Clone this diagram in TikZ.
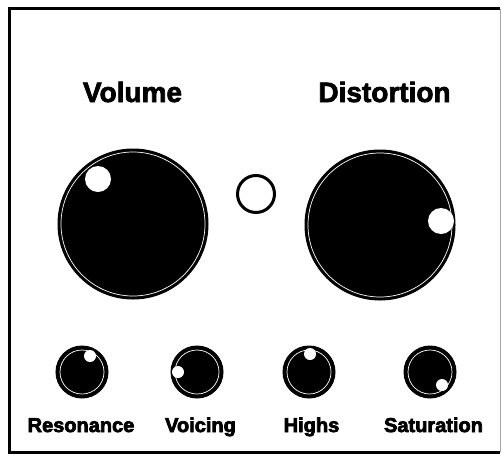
\documentclass[tikz,border=0pt]{standalone}
\usepackage{fontspec}
\setmainfont{Liberation Sans}
\newcommand{\heavytext}[1]{\special{pdf:literal direct 2 Tr 0.7 w}#1\special{pdf:literal direct 0 Tr}}
\begin{document}
\begin{tikzpicture}[x=1pt,y=-1pt,
  bigknob/.style={circle,fill=black,draw=black,line width=1pt,minimum size=150pt,inner sep=0pt},
  smallknob/.style={circle,fill=black,draw=black,line width=1pt,minimum size=52pt,inner sep=0pt},
  bigdot/.style={circle,fill=white,minimum size=26pt,inner sep=0pt},
  smalldot/.style={circle,fill=white,minimum size=12pt,inner sep=0pt},
  led/.style={circle,draw=black,line width=3pt,fill=white,minimum size=37pt,inner sep=0pt},
  ring/.style={draw=white,line width=0.7pt},
  biglabel/.style={font=\bfseries\fontsize{28}{28}\selectfont,anchor=base,inner sep=0pt},
  smalllabel/.style={font=\bfseries\fontsize{20}{20}\selectfont,anchor=base,inner sep=0pt}
]
\useasboundingbox (0,0) rectangle (502,458);
\fill[white] (0,0) rectangle (502,458);
% panel frame
\draw[black,line width=3pt] (500,8.5) -- (9,8.5) -- (9,452) -- (500,452);
\draw[gray!70,line width=1pt] (500,8.5) -- (500,452);

% big labels
\node[biglabel] (lvol) at (132.5,102) {\heavytext{Volume}};
\node[biglabel] (ldist) at (384.5,102) {\heavytext{Distortion}};

% big knobs
\node[bigknob] (vol) at (133,224) {};
\draw[ring] (vol.center) circle (72pt);
\node[bigdot] (voldot) at (98,179) {};

\node[bigknob] (dist) at (380,225) {};
\draw[ring] (dist.center) circle (72pt);
\node[bigdot] (distdot) at (441,221) {};

% LED
\node[led] (ledn) at (256,194) {};

% small knobs
\node[smallknob] (res) at (82,372) {};
\draw[ring] (res.center) circle (22pt);
\node[smalldot] (resdot) at (90,356) {};

\node[smallknob] (voi) at (197,372) {};
\draw[ring] (voi.center) circle (22pt);
\node[smalldot] (voidot) at (178,372) {};

\node[smallknob] (hig) at (309,372) {};
\draw[ring] (hig.center) circle (22pt);
\node[smalldot] (higdot) at (310,354) {};

\node[smallknob] (sat) at (430,372) {};
\draw[ring] (sat.center) circle (22pt);
\node[smalldot] (satdot) at (442,385) {};

% small labels
\node[smalllabel] (lres) at (81,432) {\heavytext{Resonance}};
\node[smalllabel] (lvoi) at (200.5,432) {\heavytext{Voicing}};
\node[smalllabel] (lhig) at (311.5,432) {\heavytext{Highs}};
\node[smalllabel] (lsat) at (433.5,432) {\heavytext{Saturation}};
\end{tikzpicture}
\end{document}
